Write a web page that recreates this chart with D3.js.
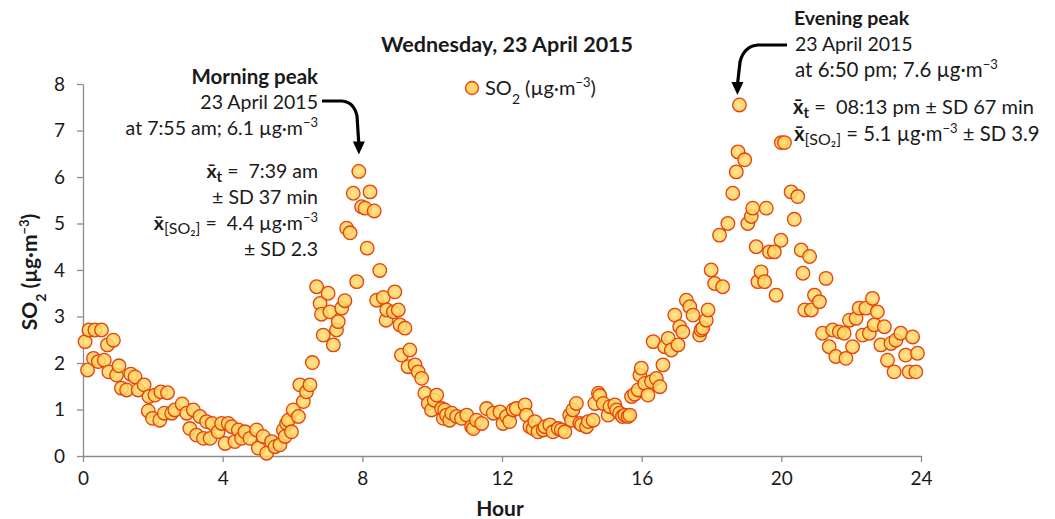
<!DOCTYPE html>
<html>
<head>
<meta charset="utf-8">
<script src="https://cdn.jsdelivr.net/npm/d3@7"></script>
<style>
  body { margin: 0; background: #fff; }
  svg { font-family: Lato, "DejaVu Sans", sans-serif; }
</style>
</head>
<body>
<div id="chart"></div>
<script>
// hour of day for each reading
var hours = [
    0.06, 0.13, 0.17, 0.30, 0.34, 0.44, 0.53, 0.61, 0.70, 0.74, 0.87, 0.96, 1.03, 1.10, 1.25, 1.37,
    1.49, 1.58, 1.75, 1.87, 1.89, 1.99, 2.06, 2.20, 2.23, 2.33, 2.42, 2.54, 2.63, 2.84, 2.97, 3.06,
    3.16, 3.25, 3.35, 3.45, 3.54, 3.64, 3.70, 3.87, 3.97, 4.07, 4.16, 4.26, 4.35, 4.45, 4.54, 4.64,
    4.78, 4.97, 5.02, 5.16, 5.26, 5.40, 5.50, 5.64, 5.74, 5.79, 5.83, 5.88, 5.97, 6.02, 6.17, 6.21,
    6.31, 6.40, 6.50, 6.57, 6.69, 6.79, 6.83, 6.88, 7.02, 7.07, 7.17, 7.26, 7.31, 7.41, 7.50, 7.55,
    7.65, 7.74, 7.84, 7.90, 7.98, 8.08, 8.14, 8.22, 8.34, 8.41, 8.50, 8.60, 8.68, 8.70, 8.89, 8.93,
    9.03, 9.08, 9.12, 9.22, 9.31, 9.36, 9.51, 9.60, 9.70, 9.79, 9.89, 9.98, 10.06, 10.13, 10.27, 10.32,
    10.36, 10.41, 10.50, 10.56, 10.70, 10.84, 10.99, 11.13, 11.18, 11.27, 11.42, 11.56, 11.75, 11.94, 12.03, 12.13,
    12.22, 12.32, 12.41, 12.66, 12.70, 12.80, 12.89, 12.94, 13.03, 13.18, 13.23, 13.37, 13.46, 13.61, 13.70, 13.80,
    13.94, 13.99, 14.03, 14.13, 14.23, 14.28, 14.42, 14.47, 14.61, 14.66, 14.76, 14.80, 14.90, 15.04, 15.09, 15.23,
    15.28, 15.37, 15.45, 15.52, 15.61, 15.66, 15.71, 15.80, 15.90, 15.95, 15.99, 16.09, 16.18, 16.28, 16.33, 16.42,
    16.52, 16.61, 16.66, 16.76, 16.85, 16.95, 17.04, 17.09, 17.18, 17.28, 17.38, 17.47, 17.66, 17.70, 17.75, 17.85,
    17.90, 17.99, 18.09, 18.23, 18.32, 18.47, 18.61, 18.71, 18.76, 18.80, 18.95, 19.04, 19.14, 19.18, 19.28, 19.33,
    19.42, 19.52, 19.57, 19.66, 19.80, 19.85, 19.99, 20.00, 20.09, 20.28, 20.37, 20.47, 20.57, 20.62, 20.67, 20.81,
    20.86, 20.95, 21.09, 21.18, 21.28, 21.37, 21.47, 21.56, 21.66, 21.80, 21.85, 21.95, 22.04, 22.14, 22.23, 22.33,
    22.42, 22.52, 22.61, 22.66, 22.75, 22.85, 22.95, 23.04, 23.14, 23.23, 23.28, 23.42, 23.56, 23.66, 23.76, 23.85,
    23.90
];
// SO2 concentration (ug/m3), same order as hours
var so2 = [
    2.46, 1.85, 2.71, 2.10, 2.71, 2.03, 2.71, 2.06, 2.39, 1.81, 2.49, 1.74, 1.94, 1.46, 1.42, 1.76,
    1.70, 1.42, 1.53, 0.97, 1.28, 0.81, 1.31, 0.77, 1.38, 0.92, 1.36, 0.92, 0.99, 1.12, 0.92, 0.59,
    0.99, 0.45, 0.85, 0.38, 0.74, 0.38, 0.70, 0.52, 0.70, 0.27, 0.70, 0.63, 0.31, 0.56, 0.38, 0.52,
    0.38, 0.56, 0.17, 0.42, 0.06, 0.31, 0.20, 0.24, 0.56, 0.42, 0.70, 0.77, 0.52, 0.99, 0.85, 1.53,
    1.17, 1.38, 1.53, 2.01, 3.64, 3.28, 3.05, 2.60, 3.50, 3.10, 2.39, 2.71, 2.89, 3.18, 3.34, 4.90,
    4.80, 5.65, 3.75, 6.12, 5.36, 5.33, 4.47, 5.68, 5.27, 3.35, 3.99, 3.41, 2.92, 3.14, 3.10, 3.53,
    3.14, 2.82, 2.17, 2.75, 1.92, 2.28, 1.96, 1.81, 1.67, 1.35, 1.13, 0.99, 1.20, 1.31, 1.02, 0.81,
    0.99, 0.88, 0.77, 0.92, 0.85, 0.81, 0.88, 0.63, 0.59, 0.77, 0.70, 1.02, 0.92, 0.95, 0.70, 0.85,
    0.74, 0.99, 1.02, 1.10, 0.88, 0.63, 0.59, 0.74, 0.52, 0.56, 0.63, 0.67, 0.52, 0.59, 0.56, 0.52,
    0.88, 0.77, 0.99, 1.13, 0.70, 0.67, 0.63, 0.74, 0.77, 1.13, 1.35, 1.30, 1.13, 0.88, 1.06, 1.10,
    0.99, 0.92, 0.85, 0.88, 0.85, 0.88, 1.28, 1.33, 1.42, 1.74, 1.89, 1.56, 1.31, 1.60, 2.46, 1.67,
    1.49, 1.96, 2.35, 2.53, 2.28, 3.03, 2.39, 2.78, 2.67, 3.35, 3.21, 3.03, 2.60, 2.71, 2.75, 2.92,
    3.14, 4.00, 3.71, 4.75, 3.64, 5.00, 5.65, 6.11, 6.54, 7.55, 6.37, 5.00, 5.15, 5.33, 4.50, 3.75,
    3.96, 3.75, 5.33, 4.39, 4.39, 3.46, 4.64, 6.74, 6.74, 5.68, 5.09, 5.58, 4.43, 3.93, 3.14, 4.29,
    3.14, 3.46, 3.32, 2.64, 3.82, 2.35, 2.71, 2.14, 2.67, 2.64, 2.10, 2.92, 2.35, 2.96, 3.18, 2.60,
    3.18, 2.64, 3.39, 2.82, 3.10, 2.39, 2.78, 2.06, 2.42, 1.81, 2.49, 2.64, 2.17, 1.81, 2.56, 1.81,
    2.21
];
var xTicks = [0, 4, 8, 12, 16, 20, 24];
var yTicks = [0, 1, 2, 3, 4, 5, 6, 7, 8];
var morningPeak = [7.90, 6.12];
var eveningPeak = [18.80, 7.55];

var width = 1055, height = 519;
var svg = d3.select("#chart").append("svg")
    .attr("width", width)
    .attr("height", height);

var x = d3.scaleLinear().domain([0, 24]).range([83, 921]);
var y = d3.scaleLinear().domain([0, 8]).range([456, 84]);

var axisColor = "#8c8c8c", textColor = "#1a1a1a";
var nb = "\u00a0";

// marker gradient
var defs = svg.append("defs");
var grad = defs.append("radialGradient").attr("id", "dot")
    .attr("cx", "50%").attr("cy", "50%").attr("r", "55%");
grad.append("stop").attr("offset", "0%").attr("stop-color", "#ffe27a");
grad.append("stop").attr("offset", "70%").attr("stop-color", "#ffcf5c");
grad.append("stop").attr("offset", "100%").attr("stop-color", "#f7a93a");

// axes
var yAxis = svg.append("g")
    .attr("transform", "translate(" + x(0) + ",0)")
    .call(d3.axisLeft(y).tickValues(yTicks).tickSize(6).tickPadding(12).tickSizeOuter(0));
var xAxis = svg.append("g")
    .attr("transform", "translate(0," + y(0) + ")")
    .call(d3.axisBottom(x).tickValues(xTicks).tickSize(6).tickPadding(10).tickSizeOuter(0));
[xAxis, yAxis].forEach(function(a) {
    a.selectAll("path, line").attr("stroke", axisColor).attr("stroke-width", 1.3);
    a.selectAll("text")
        .attr("fill", textColor)
        .style("font-size", "19px")
        .style("font-family", "Lato, sans-serif");
});

// points
var points = hours.map(function(h, i) { return { h: h, v: so2[i] }; });
svg.append("g").selectAll("circle")
    .data(points)
    .enter()
    .append("circle")
    .attr("cx", function(d) { return x(d.h); })
    .attr("cy", function(d) { return y(d.v); })
    .attr("r", 6.8)
    .attr("fill", "url(#dot)")
    .attr("fill-opacity", 0.85)
    .attr("stroke", "#e0450f")
    .attr("stroke-width", 1.3);

// title and axis titles
svg.append("text")
    .attr("x", 507).attr("y", 52)
    .attr("text-anchor", "middle")
    .style("font-size", "21.5px").style("font-weight", "bold")
    .attr("fill", textColor)
    .text("Wednesday, 23 April 2015");

svg.append("text")
    .attr("x", x(12) - 2).attr("y", 516)
    .attr("text-anchor", "middle")
    .style("font-size", "21px").style("font-weight", "bold")
    .attr("fill", textColor)
    .text("Hour");

var yTitle = svg.append("text")
    .attr("transform", "translate(37," + (y(4) + 2) + ") rotate(-90)")
    .attr("text-anchor", "middle")
    .style("font-size", "21px").style("font-weight", "bold")
    .attr("fill", textColor);
yTitle.append("tspan").text("SO");
yTitle.append("tspan").attr("baseline-shift", "sub").style("font-size", "14px").text("2");
yTitle.append("tspan").text(" (µg·m");
yTitle.append("tspan").attr("baseline-shift", "super").style("font-size", "13px").text("−3");
yTitle.append("tspan").text(")");

// legend
svg.append("circle")
    .attr("cx", 472).attr("cy", 88).attr("r", 6.5)
    .attr("fill", "url(#dot)").attr("stroke", "#e0450f").attr("stroke-width", 1.3);
var leg = svg.append("text")
    .attr("x", 485).attr("y", 95)
    .style("font-size", "20px")
    .attr("fill", textColor);
leg.append("tspan").text("SO");
leg.append("tspan").attr("baseline-shift", "sub").style("font-size", "14px").text("2");
leg.append("tspan").text(" (µg·m");
leg.append("tspan").attr("baseline-shift", "super").style("font-size", "13px").text("−3");
leg.append("tspan").text(")");

// annotation helper: parts = [[text, kind]]
function note(xp, yp, anchor, parts, size) {
    var t = svg.append("text")
        .attr("x", xp).attr("y", yp)
        .attr("text-anchor", anchor)
        .style("font-size", (size || 19.5) + "px")
        .attr("fill", textColor);
    parts.forEach(function(p) {
        var s = t.append("tspan").text(p[0]);
        if (p[1] === "sub") s.attr("baseline-shift", "-4px").style("font-size", "15px").style("font-weight", "bold");
        if (p[1] === "subn") s.attr("baseline-shift", "-4px").style("font-size", "16px");
        if (p[1] === "super") s.attr("baseline-shift", "super").style("font-size", "13px");
        if (p[1] === "bold") s.style("font-weight", "bold");
    });
    return t;
}
var mu = [["µg·m", ""], ["−3", "super"]];

// morning peak
note(318, 84, "end", [["Morning peak", "bold"]], 20.5);
note(318, 109, "end", [["23 April 2015", ""]]);
note(318, 135, "end", [["at 7:55 am; 6.1 ", ""]].concat(mu));
note(318, 178, "end", [["x̄", "bold"], ["t", "sub"], [" =" + nb + nb + "7:39 am", ""]]);
note(318, 204, "end", [["± SD 37 min", ""]]);
note(318, 230, "end", [["x̄", "bold"], ["[SO₂]", "subn"], [" =" + nb + nb + "4.4 ", ""]].concat(mu));
note(318, 256, "end", [["± SD 2.3", ""]]);

// evening peak
note(794, 25, "start", [["Evening peak", "bold"]], 19.5);
note(795, 51, "start", [["23 April 2015", ""]]);
note(795, 77, "start", [["at 6:50 pm; 7.6 ", ""]].concat(mu), 20.5);
note(793, 114, "start", [["x̄", "bold"], ["t", "sub"], [" =" + nb + nb + "08:13 pm ± SD 67 min", ""]], 20);
note(794, 141, "start", [["x̄", "bold"], ["[SO₂]", "subn"], [" =" + nb + "5.1 ", ""]].concat(mu).concat([[" ± SD 3.9", ""]]), 20.3);

// arrows pointing at the peaks
function arrow(d, tipX, tipY) {
    svg.append("path")
        .attr("d", d)
        .attr("fill", "none")
        .attr("stroke", "#000")
        .attr("stroke-width", 3.2);
    svg.append("path")
        .attr("d", "M" + (tipX - 6) + "," + (tipY - 13) + "L" + (tipX + 6) + "," + (tipY - 13) + "L" + tipX + "," + tipY + "Z")
        .attr("fill", "#000");
}
var mx = x(morningPeak[0]), my = y(morningPeak[1]) - 17;
arrow("M322,101 L342,101 Q354,102 357,116 L" + mx + "," + (my - 10), mx, my);
var ex = x(eveningPeak[0]) - 2, ey = y(eveningPeak[1]) - 10;
arrow("M787,45 L758,45 Q744,46 740,62 L" + ex + "," + (ey - 10), ex, ey);
</script>
</body>
</html>
